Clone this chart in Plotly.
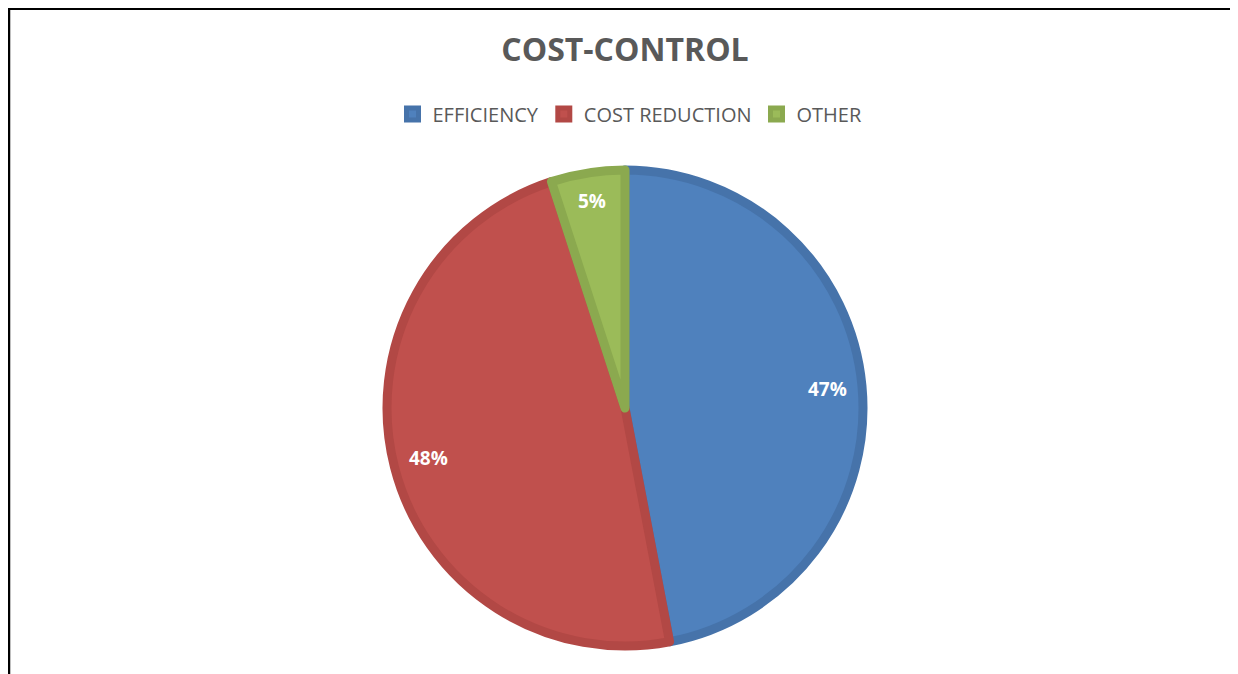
import math
import plotly.graph_objects as go

categories = ["EFFICIENCY", "COST REDUCTION", "OTHER"]
values = [47, 48, 5]
fill_colors = ["#4F81BD", "#C0504D", "#9BBB59"]
edge_colors = ["#4673AA", "#B24845", "#8BA94F"]

W, H = 1238, 674
ph = 476
cy_fig = 400
mt = cy_fig - ph // 2
mb = H - mt - ph
cx_fig = 617

def px_x(px):
    return px / W

def px_y(py):
    return (H - mb - py) / ph

dom_half = ph / 2 / W

fig = go.Figure()
fig.add_trace(go.Pie(
    labels=categories,
    values=values,
    sort=False,
    direction="clockwise",
    rotation=0,
    marker=dict(colors=fill_colors, line=dict(color=edge_colors, width=9)),
    textinfo="none",
    hoverinfo="label+percent",
    domain=dict(x=[cx_fig / W - dom_half, cx_fig / W + dom_half], y=[0, 1]),
    showlegend=True,
))

# data labels placed near the outer part of each slice, on its mid-angle
total = sum(values)
annotations = []
cum = 0
for v in values:
    ang = 2 * math.pi * (cum + v / 2) / total
    cum += v
    label_r = 203 if v / total > 0.1 else 210
    lx = cx_fig + label_r * math.sin(ang)
    ly = cy_fig - label_r * math.cos(ang)
    annotations.append(dict(
        x=px_x(lx), y=px_y(ly), xref="paper", yref="paper",
        text=f"<b>{round(100 * v / total)}%</b>", showarrow=False,
        font=dict(family="Open Sans", size=19, color="white"),
        xanchor="center", yanchor="middle",
    ))

fig.update_layout(
    width=W, height=H,
    margin=dict(l=0, r=0, t=mt, b=mb),
    paper_bgcolor="white",
    plot_bgcolor="white",
    title=dict(text="<b>COST-CONTROL</b>", x=617 / W, xanchor="center", y=1 - 42 / H, yanchor="middle",
               font=dict(family="Open Sans", size=32, color="#595959")),
    legend=dict(orientation="h", x=622 / W, xanchor="center", y=px_y(106), yanchor="middle",
                font=dict(family="Open Sans", size=20, color="#595959"),
                traceorder="normal", itemwidth=30),
    annotations=annotations,
    shapes=[
        dict(type="line", xref="paper", yref="paper",
             x0=px_x(1), x1=px_x(1), y0=px_y(0), y1=px_y(690),
             line=dict(color="black", width=2.5)),
        dict(type="line", xref="paper", yref="paper",
             x0=px_x(0), x1=px_x(1260), y0=px_y(0), y1=px_y(0),
             line=dict(color="black", width=4)),
    ],
)

fig.write_html("out.html")
